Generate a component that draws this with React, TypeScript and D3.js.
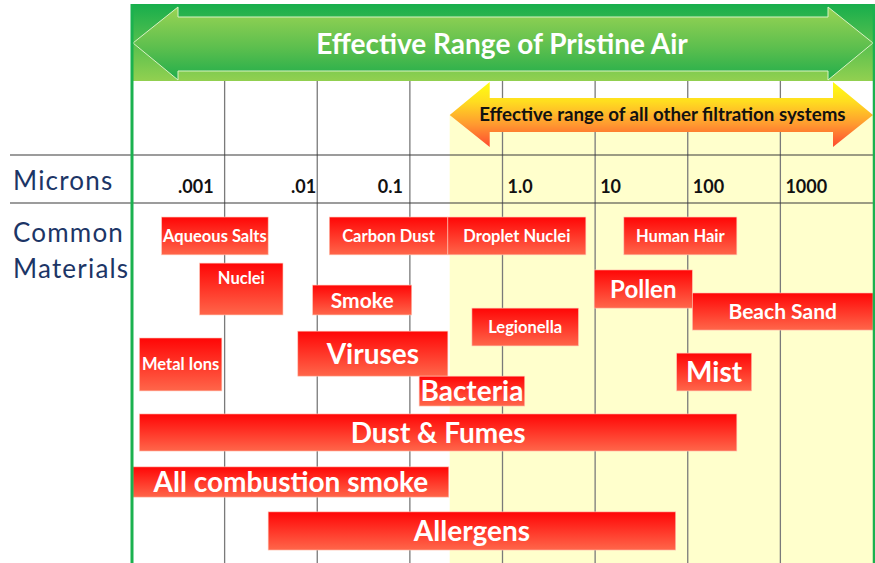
import { useEffect, useRef } from "react";
import * as d3 from "d3";

// particle size columns (one column per decade, left to right)
const tickLabels = [".001", ".01", "0.1", "", "1.0", "10", "100", "1000"];

// materials and their size range, in column units
const materials = [
  "Aqueous Salts", "Carbon Dust", "Droplet Nuclei", "Human Hair",
  "Nuclei", "Pollen", "Smoke", "Beach Sand", "Legionella", "Viruses",
  "Metal Ions", "Mist", "Bacteria", "Dust & Fumes", "All combustion smoke", "Allergens",
];
const sizeFrom = [0.32, 2.13, 3.41, 5.31, 0.73, 4.99, 1.95, 6.05, 3.67, 1.79, 0.08, 5.88, 3.1, 0.08, 0.01, 1.47];
const sizeTo = [1.47, 3.41, 4.9, 6.53, 1.63, 6.05, 3.02, 8.0, 4.82, 3.41, 0.97, 6.69, 4.24, 6.53, 3.42, 5.87];
// vertical lane of each bar (row units)
const rowTop = [0.39, 0.39, 0.39, 0.39, 1.67, 1.86, 2.28, 2.5, 2.92, 3.56, 3.75, 4.17, 4.81, 5.86, 7.33, 8.58];
const rowBottom = [1.44, 1.44, 1.44, 1.44, 3.11, 2.92, 3.11, 3.53, 3.97, 4.81, 5.22, 5.22, 5.64, 6.89, 8.17, 9.64];

// where the "other filtration systems" range begins (column units)
const otherSystemsFrom = 3.43;

const bigLabels = ["Viruses", "Bacteria", "Dust & Fumes", "All combustion smoke", "Allergens", "Mist"];
const midLabels: Record<string, number> = { Pollen: 24, "Beach Sand": 21, Smoke: 21 };

const FONT = "Lato, 'Open Sans', sans-serif";

export default function App() {
  const ref = useRef<SVGSVGElement | null>(null);

  useEffect(() => {
    if (!ref.current) return;
    const svg = d3.select(ref.current);
    svg.selectAll("*").remove();

    const height = 563;

    const x = d3.scaleLinear().domain([0, tickLabels.length]).range([132, 873]);
    const y = d3.scaleLinear().domain([0, 10]).range([203, 563]);

    const defs = svg.append("defs");

    const band = defs.append("linearGradient").attr("id", "band").attr("x1", 0).attr("y1", 0).attr("x2", 0).attr("y2", 1);
    band.append("stop").attr("offset", "0%").attr("stop-color", "#17ae4c");
    band.append("stop").attr("offset", "100%").attr("stop-color", "#92d050");

    const greenArrow = defs.append("linearGradient").attr("id", "greenArrow").attr("x1", 0).attr("y1", 0).attr("x2", 0).attr("y2", 1);
    greenArrow.append("stop").attr("offset", "0%").attr("stop-color", "#9ad454");
    greenArrow.append("stop").attr("offset", "55%").attr("stop-color", "#5dbf4e");
    greenArrow.append("stop").attr("offset", "100%").attr("stop-color", "#20ad4b");

    const orangeArrow = defs.append("linearGradient").attr("id", "orangeArrow")
      .attr("gradientUnits", "userSpaceOnUse").attr("x1", 0).attr("y1", 82).attr("x2", 0).attr("y2", 147);
    orangeArrow.append("stop").attr("offset", "0%").attr("stop-color", "#ffff10");
    orangeArrow.append("stop").attr("offset", "30%").attr("stop-color", "#ffdd20");
    orangeArrow.append("stop").attr("offset", "65%").attr("stop-color", "#ff9a30");
    orangeArrow.append("stop").attr("offset", "100%").attr("stop-color", "#ff4a30");

    const barGrad = defs.append("linearGradient").attr("id", "bar").attr("x1", 0).attr("y1", 0).attr("x2", 0).attr("y2", 1);
    barGrad.append("stop").attr("offset", "0%").attr("stop-color", "#ff0606");
    barGrad.append("stop").attr("offset", "100%").attr("stop-color", "#ff664a");

    // yellow zone for the other filtration systems
    svg.append("rect")
      .attr("x", x(otherSystemsFrom)).attr("y", 115)
      .attr("width", x(tickLabels.length) - x(otherSystemsFrom))
      .attr("height", height - 115)
      .attr("fill", "#ffffcc");

    // column grid
    svg.append("g").selectAll("line")
      .data(d3.range(1, tickLabels.length))
      .join("line")
      .attr("x1", d => x(d)).attr("x2", d => x(d))
      .attr("y1", 81).attr("y2", height)
      .attr("stroke", "#7a7a7a").attr("stroke-width", 1.3);

    // header rows
    svg.append("g").selectAll("line")
      .data([155, y(0)])
      .join("line")
      .attr("x1", 10).attr("x2", x(tickLabels.length))
      .attr("y1", d => d).attr("y2", d => d)
      .attr("stroke", "#3a3a3a").attr("stroke-width", 1.2);

    // green band with double arrow
    svg.append("rect")
      .attr("x", x(0) - 1).attr("y", 4)
      .attr("width", x(tickLabels.length) - x(0) + 3).attr("height", 77)
      .attr("fill", "url(#band)");

    const gx0 = x(0) + 1, gx1 = x(tickLabels.length);
    const gPts: [number, number][] = [
      [gx0, 43], [gx0 + 45, 7], [gx0 + 45, 17], [gx1 - 45, 17], [gx1 - 45, 7],
      [gx1, 43], [gx1 - 45, 80], [gx1 - 45, 71], [gx0 + 45, 71], [gx0 + 45, 80],
    ];
    svg.append("polygon")
      .attr("points", gPts.map(p => p.join(",")).join(" "))
      .attr("fill", "url(#greenArrow)")
      .attr("stroke", "#d9f2c4").attr("stroke-width", 1);

    svg.append("text")
      .attr("x", 502).attr("y", 54)
      .attr("text-anchor", "middle")
      .attr("font-family", FONT).attr("font-weight", 700).attr("font-size", 28)
      .attr("fill", "#ffffff")
      .text("Effective Range of Pristine Air");

    // orange double arrow
    const ox0 = x(otherSystemsFrom), ox1 = x(tickLabels.length);
    const oPts: [number, number][] = [
      [ox0, 115], [ox0 + 40, 82], [ox0 + 40, 98], [ox1 - 40, 98], [ox1 - 40, 82],
      [ox1, 115], [ox1 - 40, 147], [ox1 - 40, 132], [ox0 + 40, 132], [ox0 + 40, 147],
    ];
    svg.append("polygon")
      .attr("points", oPts.map(p => p.join(",")).join(" "))
      .attr("fill", "url(#orangeArrow)");

    svg.append("text")
      .attr("x", (ox0 + ox1) / 2 + 1).attr("y", 121)
      .attr("text-anchor", "middle")
      .attr("font-family", FONT).attr("font-weight", 700).attr("font-size", 18.7)
      .attr("fill", "#111")
      .text("Effective range of all other filtration systems");

    // micron tick labels
    const tickOffset = [11, 1, 7];
    svg.append("g").selectAll("text")
      .data(tickLabels)
      .join("text")
      .attr("x", (d, i) => (i < 3 ? x(i + 1) - tickOffset[i] : x(i) + 5))
      .attr("y", 193)
      .attr("text-anchor", (d, i) => (i < 3 ? "end" : "start"))
      .attr("font-family", FONT).attr("font-weight", 700).attr("font-size", 18)
      .attr("fill", "#111")
      .text(d => d);

    // material bars
    const bars = svg.append("g").selectAll("g")
      .data(materials)
      .join("g");

    bars.append("rect")
      .attr("x", (d, i) => x(sizeFrom[i]))
      .attr("y", (d, i) => y(rowTop[i]))
      .attr("width", (d, i) => x(sizeTo[i]) - x(sizeFrom[i]))
      .attr("height", (d, i) => y(rowBottom[i]) - y(rowTop[i]))
      .attr("fill", "url(#bar)")
      .attr("stroke", "#ffc4b4").attr("stroke-width", 0.6);

    bars.append("text")
      .attr("x", (d, i) => (x(sizeFrom[i]) + x(sizeTo[i])) / 2)
      .attr("y", (d, i) => d === "Nuclei" ? y(rowTop[i]) + 15 : (y(rowTop[i]) + y(rowBottom[i])) / 2)
      .attr("dy", "0.36em")
      .attr("text-anchor", "middle")
      .attr("font-family", FONT).attr("font-weight", 700)
      .attr("font-size", d => bigLabels.includes(d) ? 28 : midLabels[d] ?? 16.5)
      .attr("fill", "#ffffff")
      .text(d => d);

    // row titles
    const titles = svg.append("g")
      .attr("font-family", FONT).attr("font-size", 26)
      .attr("letter-spacing", 1.2).attr("fill", "#1c3566");
    titles.append("text").attr("x", 13).attr("y", 190).text("Microns");
    titles.append("text").attr("x", 13).attr("y", 242).text("Common");
    titles.append("text").attr("x", 13).attr("y", 278).text("Materials");

    // green frame
    svg.append("line")
      .attr("x1", x(0)).attr("x2", x(0)).attr("y1", 4).attr("y2", height)
      .attr("stroke", "#1bb14f").attr("stroke-width", 3);
    svg.append("line")
      .attr("x1", x(tickLabels.length) + 1).attr("x2", x(tickLabels.length) + 1).attr("y1", 4).attr("y2", height)
      .attr("stroke", "#1bb14f").attr("stroke-width", 2.5);
  }, []);

  return (
    <svg
      ref={ref}
      width={875}
      height={563}
      style={{ position: "absolute", left: 0, top: 0, background: "#fff" }}
    />
  );
}
